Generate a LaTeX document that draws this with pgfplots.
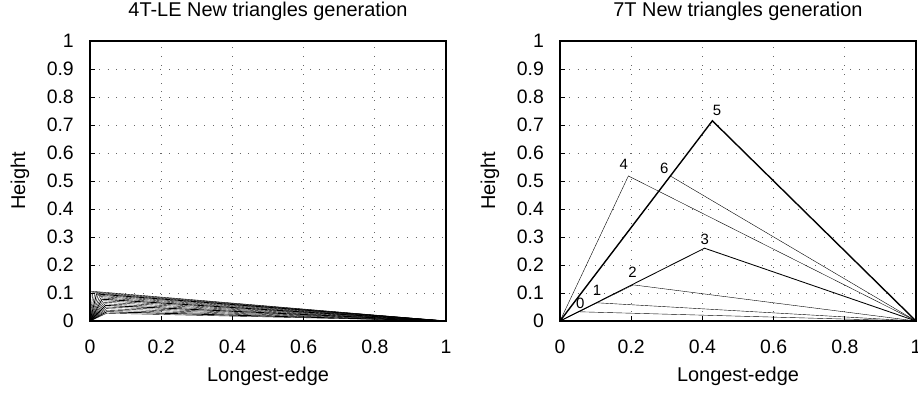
\documentclass[border=0pt]{standalone}
\usepackage{fontspec}
\setmainfont{Liberation Sans}
\usepackage{pgfplots}
\pgfplotsset{compat=1.18}
\pgfplotsset{
  mystyle/.style={
    scale only axis, width=356bp, height=280bp,
    xmin=0, xmax=1, ymin=0, ymax=1,
    xtick={0,0.2,0.4,0.6,0.8,1},
    ytick={0,0.1,0.2,0.3,0.4,0.5,0.6,0.7,0.8,0.9,1},
    /pgf/number format/assume math mode=true,
    tick label style={font=\fontsize{19.5}{22}\selectfont, inner sep=0pt},
    yticklabel style={xshift=-16bp},
    xticklabel style={yshift=-19bp},
    label style={font=\fontsize{20}{24}\selectfont},
    title style={font=\fontsize{20}{24}\selectfont, at={(axis description cs:0.5,1)}, anchor=base, yshift=19bp},
    xlabel style={at={(axis description cs:0.5,0)}, anchor=base, yshift=-60bp},
    ylabel style={at={(axis description cs:-0.197,0.5)}, anchor=center},
    xlabel={Longest-edge}, ylabel={Height},
    tick align=inside, major tick length=5bp,
    xtick pos=bottom, ytick pos=left,
    grid=major,
    major grid style={black!60, line width=0.8bp, dash pattern=on 0.8bp off 8bp},
    axis line style={black, line width=1.2bp},
    tick style={black, line width=0.7bp},
    cycle list={{black, solid, mark=none, line width=0.85bp}},
    clip=false,
  }
}
\begin{document}
\begin{tikzpicture}
\path[use as bounding box] (-90bp,-74bp) rectangle (828bp,321bp);
\begin{axis}[mystyle, title={4T-LE New triangles generation}]
\addplot coordinates {(0,0) (0.0028,0.1065) (1,0)};
\addplot coordinates {(0,0) (0.0082,0.1036) (1,0)};
\addplot coordinates {(0,0) (0.0134,0.1002) (1,0)};
\addplot coordinates {(0,0) (0.0182,0.0964) (1,0)};
\addplot coordinates {(0,0) (0.0226,0.0921) (1,0)};
\addplot coordinates {(0,0) (0.0268,0.0876) (1,0)};
\addplot coordinates {(0,0) (0.0305,0.0828) (1,0)};
\addplot coordinates {(0,0) (0.0339,0.0777) (1,0)};
\addplot coordinates {(0,0) (0.0369,0.0724) (1,0)};
\addplot coordinates {(0,0) (0.0395,0.0669) (1,0)};
\addplot coordinates {(0,0) (0.0417,0.0613) (1,0)};
\addplot coordinates {(0,0) (0.0436,0.0556) (1,0)};
\addplot coordinates {(0,0) (0.0450,0.0499) (1,0)};
\addplot coordinates {(0,0) (0.0461,0.0442) (1,0)};
\addplot coordinates {(0,0) (0.0467,0.0386) (1,0)};
\addplot coordinates {(0,0) (0.0471,0.0331) (1,0)};
\addplot coordinates {(0,0) (0.0470,0.0277) (1,0)};
\end{axis}
\begin{axis}[mystyle, at={(470bp,0)}, anchor=south west, title={7T New triangles generation}]
\addplot coordinates {(0,0) (0.052,0.033) (1,0)};
\addplot coordinates {(0,0) (0.104,0.065) (1,0)};
\addplot coordinates {(0,0) (0.206,0.129) (1,0)};
\addplot coordinates {(0,0) (0.406,0.260) (1,0)};
\addplot coordinates {(0,0) (0.192,0.518) (1,0)};
\addplot+[line width=1.4bp] coordinates {(0,0) (0.428,0.715) (1,0)};
\addplot coordinates {(0,0) (0.310,0.518) (1,0)};
\addplot[draw=none, nodes near coords, point meta=explicit symbolic,
  nodes near coords style={anchor=center, font=\fontsize{15}{18}\selectfont, inner sep=0pt}]
  coordinates {
  (0.057,0.064) [0]
  (0.104,0.108) [1]
  (0.204,0.173) [2]
  (0.407,0.291) [3]
  (0.179,0.560) [4]
  (0.441,0.751) [5]
  (0.293,0.546) [6]
};
\end{axis}
\end{tikzpicture}
\end{document}
